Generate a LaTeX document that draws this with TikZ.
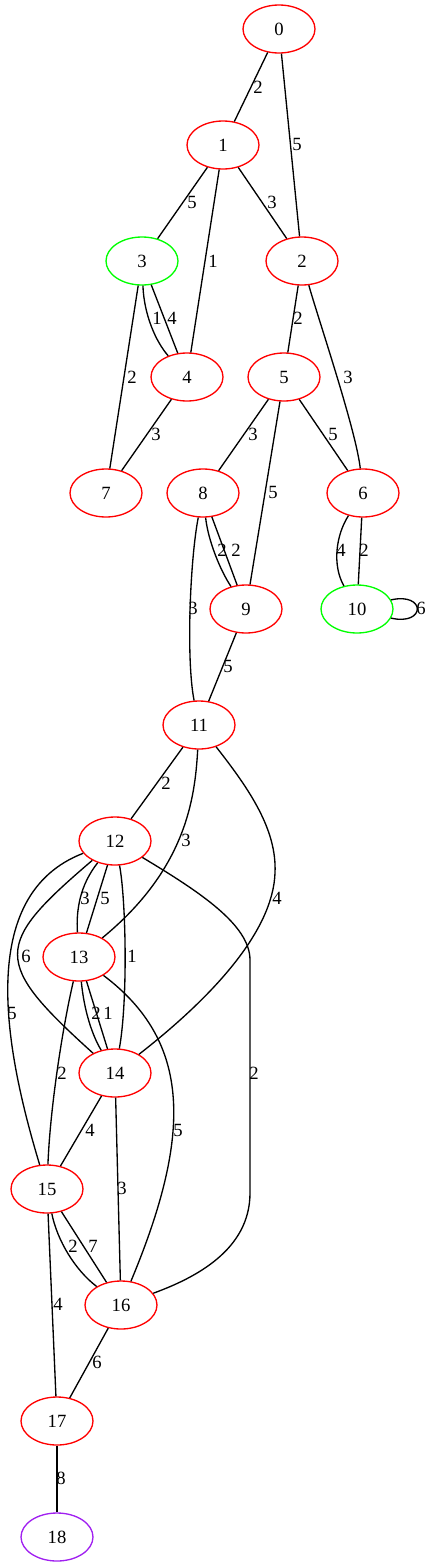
\documentclass[tikz,border=0pt]{standalone}
\usepackage{fontspec}
\setmainfont{Liberation Serif}
\usetikzlibrary{shapes.geometric}
\definecolor{vred}{RGB}{255,0,0}
\definecolor{vgreen}{RGB}{0,255,0}
\definecolor{vpurple}{RGB}{160,32,240}
\tikzset{
  vtx/.style={ellipse,draw=vred,line width=1pt,minimum width=54pt,minimum height=36pt,inner sep=0pt,font=\fontsize{14}{16}\selectfont},
  lbl/.style={inner sep=0pt,font=\fontsize{14}{16}\selectfont},
  wire/.style={line width=1pt}
}
\begin{document}
\begin{tikzpicture}[x=0.75pt,y=0.75pt,yscale=-1,xscale=1]
\useasboundingbox (0,0) rectangle (432,1567);

% Vertices
\node [vtx] (n0) at (279,29) {0};
\node [vtx] (n1) at (223,145) {1};
\node [vtx] (n2) at (302,261) {2};
\node [vtx,draw=vgreen] (n3) at (142,261) {3};
\node [vtx] (n4) at (187,377) {4};
\node [vtx] (n5) at (284,377) {5};
\node [vtx] (n6) at (363,493) {6};
\node [vtx] (n7) at (106,493) {7};
\node [vtx] (n8) at (203,493) {8};
\node [vtx] (n9) at (246,609) {9};
\node [vtx,draw=vgreen] (n10) at (357,609) {10};
\node [vtx] (n11) at (199,725) {11};
\node [vtx] (n12) at (115,841) {12};
\node [vtx] (n13) at (79,957) {13};
\node [vtx] (n14) at (115,1073) {14};
\node [vtx] (n15) at (47,1189) {15};
\node [vtx] (n16) at (121,1305) {16};
\node [vtx] (n17) at (57,1421) {17};
\node [vtx,draw=vpurple] (n18) at (57,1537) {18};

%Straight Lines
\draw [wire] (n0) -- (n1);
\draw [wire] (n0) -- (n2);
\draw [wire] (n1) -- (n3);
\draw [wire] (n1) -- (n2);
\draw [wire] (n1) -- (n4);
\draw [wire] (n3) -- (n4);
\draw [wire] (n3) -- (n7);
\draw [wire] (n2) -- (n5);
\draw [wire] (n4) -- (n7);
\draw [wire] (n5) -- (n8);
\draw [wire] (n5) -- (n6);
\draw [wire] (n5) -- (n9);
\draw [wire] (n8) -- (n9);
\draw [wire] (n6) -- (n10);
\draw [wire] (n9) -- (n11);
\draw [wire] (n11) -- (n12);
\draw [wire] (n12) -- (n13);
\draw [wire] (n13) -- (n14);
\draw [wire] (n14) -- (n15);
\draw [wire] (n14) -- (n16);
\draw [wire] (n15) -- (n16);
\draw [wire] (n15) -- (n17);
\draw [wire] (n16) -- (n17);
\draw [wire] (n17) -- (n18);

%Curves
\draw [wire] (n3) .. controls (144,315) and (156,342) .. (n4);
\draw [wire] (n2) .. controls (318,318) and (356,430) .. (n6);
\draw [wire] (n8) .. controls (208,540) and (220,570) .. (n9);
\draw [wire] (n8) .. controls (190,560) and (186,660) .. (n11);
\draw [wire] (n6) .. controls (336,535) and (332,565) .. (n10);
\draw [wire] (n10.15) .. controls (426,592) and (426,626) .. (n10.-15);
\draw [wire] (n11) .. controls (195,800) and (185,870) .. (n13);
\draw [wire] (n11) .. controls (250,790) and (277,830) .. (275,873) .. controls (273,930) and (215,995) .. (n14);
\draw [wire] (n12) .. controls (80,885) and (76,910) .. (n13);
\draw [wire] (n12) .. controls (126,900) and (128,1000) .. (n14);
\draw [wire] (n12) .. controls (-7,945) and (-8,962) .. (n14);
\draw [wire] (n12) .. controls (-25,895) and (5,1050) .. (n15);
\draw [wire] (n12) .. controls (200,892) and (250,925) .. (250,960) -- (250,1193) .. controls (250,1250) and (195,1278) .. (n16);
\draw [wire] (n13) .. controls (84,1010) and (92,1035) .. (n14);
\draw [wire] (n13) .. controls (62,1030) and (50,1110) .. (n15);
\draw [wire] (n13) .. controls (192,1042) and (192,1135) .. (n16);
\draw [wire] (n15) .. controls (57,1240) and (75,1270) .. (n16);

% Text Node
\node [lbl] (l01) at (258,87) {2};
\node [lbl] (l02) at (297,144) {5};
\node [lbl] (l13) at (192,202) {5};
\node [lbl] (l12) at (272,202) {3};
\node [lbl] (l14) at (213,261) {1};
\node [lbl] (l34a) at (157,318) {1};
\node [lbl] (l34b) at (172,318) {4};
\node [lbl] (l25) at (298,318) {2};
\node [lbl] (l37) at (132,377) {2};
\node [lbl] (l26) at (348,377) {3};
\node [lbl] (l47) at (156,434) {3};
\node [lbl] (l58) at (253,434) {3};
\node [lbl] (l56) at (333,434) {5};
\node [lbl] (l59) at (273,492) {5};
\node [lbl] (l89a) at (222,550) {2};
\node [lbl] (l89b) at (236,550) {2};
\node [lbl] (l610a) at (341,550) {4};
\node [lbl] (l610b) at (364,550) {2};
\node [lbl] (l811) at (193,608) {3};
\node [lbl] (l1010) at (421,608) {6};
\node [lbl] (l911) at (228,666) {5};
\node [lbl] (l1112) at (166,783) {2};
\node [lbl] (l1113) at (186,840) {3};
\node [lbl] (l1114) at (277,898) {4};
\node [lbl] (l1213a) at (85,898) {3};
\node [lbl] (l1213b) at (105,898) {5};
\node [lbl] (l1214a) at (26,956) {6};
\node [lbl] (l1214b) at (132,956) {1};
\node [lbl] (l1215) at (12,1013) {5};
\node [lbl] (l1314a) at (96,1013) {2};
\node [lbl] (l1314b) at (108,1013) {1};
\node [lbl] (l1216) at (254,1073) {2};
\node [lbl] (l1315) at (62,1073) {2};
\node [lbl] (l1316) at (178,1130) {5};
\node [lbl] (l1415) at (90,1130) {4};
\node [lbl] (l1416) at (122,1188) {3};
\node [lbl] (l1516a) at (73,1246) {2};
\node [lbl] (l1516b) at (93,1246) {7};
\node [lbl] (l1517) at (58,1304) {4};
\node [lbl] (l1617) at (97,1362) {6};
\node [lbl] (l1718) at (61,1478) {8};

\end{tikzpicture}
\end{document}
